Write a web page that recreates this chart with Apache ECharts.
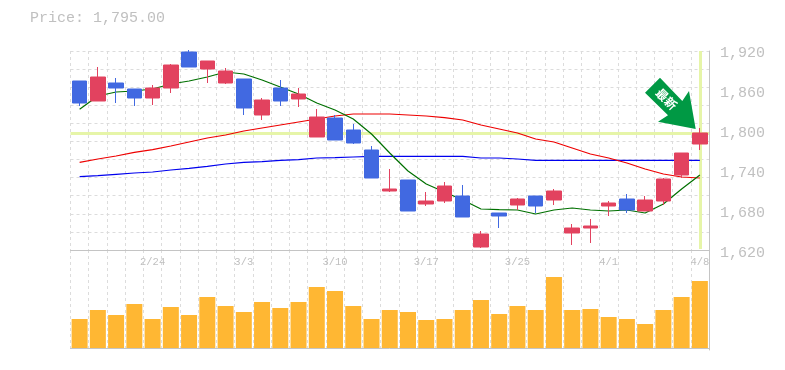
<!DOCTYPE html>
<html><head><meta charset="utf-8"><style>html,body{margin:0;padding:0;background:#fff}#c{width:785px;height:370px}</style>
<script src="https://cdn.jsdelivr.net/npm/echarts@6/dist/echarts.min.js"></script></head>
<body><div id="c"></div><script>
const dates=['2/18','2/19','2/20','2/21','2/24','2/25','2/26','2/27','2/28','3/3','3/4','3/5','3/6','3/7','3/10','3/11','3/12','3/13','3/14','3/17','3/18','3/19','3/21','3/24','3/25','3/26','3/27','3/28','3/31','4/1','4/2','4/3','4/4','4/7','4/8'];
// [open, close, low, high]; red = close above open, blue = close below open
const ohlc=[
[1878,1845,1840.5,1878],[1848,1884,1848,1899],[1875,1867.5,1845,1882.5],[1866,1852.5,1840.5,1866],[1852.5,1867.5,1842,1872],
[1867.5,1902,1860,1903.5],[1921.5,1899,1899,1924.5],[1896,1908,1875,1908],[1875,1893,1873.5,1897.5],[1881,1837.5,1827,1881],
[1827,1849.5,1819.5,1852.5],[1867.5,1848,1840.5,1879.5],[1851,1858.5,1839,1867.5],[1794,1824,1794,1836],[1822.5,1789.5,1789.5,1827],
[1804.5,1785,1783.5,1813.5],[1774.5,1732.5,1732.5,1780.5],[1713,1716,1711.5,1746],[1729.5,1683,1683,1729.5],[1693.5,1698,1690.5,1711.5],
[1698,1720.5,1695,1726.5],[1705.5,1674,1674,1722],[1629,1648.5,1627.5,1653],[1680,1675.5,1657.5,1680],[1692,1701,1684.5,1702.5],
[1705.5,1690.5,1680,1705.5],[1699.5,1713,1692,1716],[1650,1657.5,1632,1663.5],[1657.5,1660.5,1635,1671],[1690.5,1695,1675.5,1698],
[1701,1684.5,1680,1708.5],[1683,1699.5,1683,1705.5],[1698,1731,1692,1732.5],[1737,1770,1732.5,1770],[1783.5,1800,1774.5,1807.5]];
const maShort=[1835.5,1855.5,1861.5,1863,1866,1873.5,1878,1884,1891.5,1888.5,1879.5,1869,1858.5,1845,1834.5,1821,1798.5,1770,1743,1723.5,1711.5,1699.5,1686,1685,1684.5,1678.5,1684.5,1687.5,1684.5,1683,1684.5,1680,1693.5,1716,1737];
const maMid=[1756,1761,1765.5,1771,1775,1780.5,1786.5,1792.5,1797,1803,1807.5,1812,1816.5,1821,1825.5,1828.5,1828.5,1828.5,1827,1825.5,1823,1819.5,1812,1806,1800,1791,1786.5,1777.5,1768.5,1762.5,1755,1746,1738.5,1734,1732.5];
const maLong=[1734.5,1736,1738,1740,1741.5,1744.5,1747,1750,1753.5,1756,1757,1759,1760,1762.5,1763,1764,1765,1765,1765,1765,1765,1765,1762.5,1762.5,1761,1759,1759,1759,1759,1759,1759,1759,1759,1759,1759];
const volume=[290,380,330,440,290,410,330,510,420,360,460,400,460,610,570,420,290,380,360,280,290,380,480,340,420,380,710,380,390,310,290,240,380,510,670];
const priceTicks={min:1620,max:1924.5,interval:60};
const highlight=1800, lastDate='4/8';
const priceTitle='Price: 1,795.00';
const badge='\u6700\u65b0';
const MONO='"Liberation Mono","DejaVu Sans Mono",monospace';
const GRID='#dcdcdc', AXIS='#c4c4c4', TXT='#c0c0c0';
const L=70.5,W=638.5;
const chart=echarts.init(document.getElementById('c'),null,{renderer:'canvas'});
const vl={show:true,interval:0,lineStyle:{color:GRID,type:[3,3],width:1}};
const line=(data,color,z)=>({type:'line',data,xAxisIndex:0,yAxisIndex:0,symbol:'none',smooth:false,z,lineStyle:{color,width:1.2},silent:true});
chart.setOption({
 animation:false,
 title:{text:priceTitle,left:25,top:6,textStyle:{fontFamily:MONO,fontSize:15,fontWeight:'normal',color:TXT}},
 grid:[{left:L,width:W,top:50,height:203},{left:L,width:W,top:51,height:199},{left:L,width:W,top:250,height:100}],
 xAxis:[
  {gridIndex:0,type:'category',data:dates,show:false},
  {gridIndex:1,type:'category',data:dates,axisLine:{show:true,lineStyle:{color:AXIS,width:1}},axisTick:{show:false},axisLabel:{show:false},splitLine:vl},
  {gridIndex:2,type:'category',data:dates,position:'bottom',axisLine:{show:true,lineStyle:{color:AXIS}},axisTick:{show:false},splitLine:vl,axisLabel:{show:false}},
  {gridIndex:2,type:'category',data:dates,position:'top',axisLine:{show:false},axisTick:{show:false},
   axisLabel:{show:true,inside:true,margin:7,interval:(i)=>i%5===4,fontFamily:MONO,fontSize:10.5,color:TXT,hideOverlap:false}}
 ],
 yAxis:[
  {gridIndex:0,type:'value',position:'right',min:priceTicks.min,max:priceTicks.max,interval:priceTicks.interval,splitLine:{show:false},axisLine:{show:false},axisTick:{show:false},
   axisLabel:{margin:11,padding:[2,0,0,0],fontFamily:MONO,fontSize:15,color:TXT,showMaxLabel:false,formatter:(v)=>v.toLocaleString('en-US')}},
  {gridIndex:1,type:'value',position:'right',min:0,max:11,interval:1,axisLine:{show:true,lineStyle:{color:AXIS}},axisTick:{show:false},axisLabel:{show:false},splitLine:{show:true,lineStyle:{color:GRID,type:[3,3]}}},
  {gridIndex:2,type:'value',position:'right',min:-20,max:980,axisLine:{show:true,lineStyle:{color:AXIS}},axisTick:{show:false},axisLabel:{show:false},splitLine:{show:false}}
 ],
 series:[
  {type:'line',data:[],xAxisIndex:0,yAxisIndex:0,z:1,symbol:'none',silent:true,
   markLine:{z:1,silent:true,symbol:'none',label:{show:false},animation:false,lineStyle:{color:'#e6f5a8',width:3,type:'solid'},
    data:[[{coord:[dates[0],highlight],x:L},{coord:[lastDate,highlight],x:L+W}],[{coord:[lastDate,1626]},{coord:[lastDate,1923]}]]}},
  line(maLong,'#0000ee',2),line(maMid,'#ee0000',2),line(maShort,'#007000',2),
  {type:'candlestick',data:ohlc,xAxisIndex:0,yAxisIndex:0,z:3,barWidth:15,silent:true,
   itemStyle:{color:'#e2425f',color0:'#4169e1',borderColor:'#e2425f',borderColor0:'#4169e1',borderWidth:1}},
  {type:'bar',data:volume,xAxisIndex:2,yAxisIndex:2,barWidth:16,silent:true,itemStyle:{color:'#ffb733'}}
 ],
 graphic:[
  {type:'polygon',z:20,shape:{points:[[660,77.7],[645,92.7],[668,115.3],[658,121.7],[695.7,129],[689,91],[682.3,101]]},style:{fill:'#009944'}},
  {type:'text',z:21,x:666.5,y:99,rotation:-Math.PI/4,originX:0,originY:0,style:{text:badge,font:'bold 12px "Noto Sans CJK JP"',fill:'#fff',align:'center',verticalAlign:'middle'}}
 ]
});
</script></body></html>
